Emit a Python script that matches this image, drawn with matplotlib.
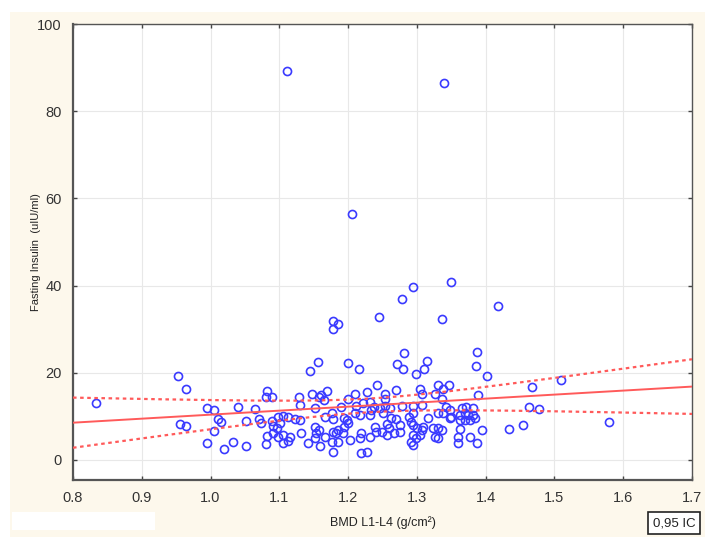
"""Scatter of fasting insulin against lumbar BMD with linear fit and 95% CI."""

import matplotlib
matplotlib.use("Agg")
import matplotlib.pyplot as plt
from matplotlib.patches import Rectangle
import numpy as np


# Points: (BMD L1-L4, fasting insulin).
POINTS = [
    # sparse / high values
    (1.111, 89.3), (1.340, 86.5), (1.205, 56.5), (1.349, 40.9), (1.294, 39.6),
    (1.418, 35.2), (1.279, 36.9), (1.245, 32.7), (1.336, 32.4), (1.178, 31.9),
    (1.186, 31.2), (1.178, 30.0), (1.388, 24.8), (1.281, 24.6), (1.156, 22.5),
    (1.200, 22.2), (1.314, 22.8), (1.271, 21.9), (1.280, 20.9), (1.311, 20.9),
    (1.144, 20.5), (1.216, 20.9), (1.386, 21.6), (1.298, 19.7), (1.402, 19.3),
    (0.952, 19.3), (0.965, 16.2), (1.509, 18.3), (1.467, 16.8), (1.580, 8.8),
    (0.833, 13.1), (1.434, 7.1), (1.455, 8.0), (1.463, 12.2), (1.478, 11.8),
    # 0.95 - 1.09
    (0.995, 12.0), (1.005, 11.5), (1.040, 12.2), (1.064, 11.7), (1.082, 15.9),
    (1.081, 14.5), (0.955, 8.3), (0.965, 7.8), (1.011, 9.3), (1.015, 8.7),
    (1.005, 6.7), (0.995, 4.0), (1.020, 2.5), (1.032, 4.1), (1.051, 3.1),
    (1.051, 9.0), (1.070, 9.4), (1.073, 8.4), (1.082, 5.4), (1.081, 3.7),
    # 1.09 - 1.24
    (1.242, 17.2), (1.228, 15.7), (1.210, 15.1), (1.200, 13.9), (1.170, 15.9),
    (1.161, 14.9), (1.157, 14.5), (1.147, 15.1), (1.165, 13.8), (1.128, 14.4),
    (1.130, 12.6), (1.090, 14.5), (1.152, 11.9), (1.190, 12.1), (1.212, 12.4),
    (1.222, 13.0), (1.232, 13.4), (1.237, 12.2), (1.166, 9.9), (1.178, 9.4),
    (1.176, 10.7), (1.194, 9.6), (1.199, 9.2), (1.210, 10.7), (1.217, 10.3),
    (1.232, 10.3), (1.234, 11.5), (1.098, 9.9), (1.106, 10.1), (1.113, 9.9),
    (1.123, 9.3), (1.130, 9.2), (1.089, 9.0), (1.091, 7.8), (1.101, 8.4),
    (1.096, 7.3), (1.091, 6.1), (1.098, 5.3), (1.106, 5.7), (1.115, 5.3),
    (1.106, 3.8), (1.113, 4.4), (1.132, 6.1), (1.142, 4.0), (1.152, 7.6),
    (1.157, 6.9), (1.154, 6.1), (1.159, 3.1), (1.152, 5.0), (1.166, 5.3),
    (1.178, 6.5), (1.183, 6.1), (1.186, 6.9), (1.176, 4.2), (1.186, 4.2),
    (1.178, 1.9), (1.193, 6.1), (1.203, 4.6), (1.217, 5.0), (1.219, 6.1),
    (1.232, 5.3), (1.219, 1.5), (1.228, 1.9), (1.194, 7.6), (1.200, 8.4),
    (1.239, 7.6), (1.241, 6.5),
    # 1.24 - 1.41
    (1.269, 16.1), (1.253, 15.1), (1.253, 13.9), (1.304, 16.3), (1.307, 15.1),
    (1.330, 17.2), (1.338, 16.2), (1.347, 17.1), (1.326, 15.1), (1.336, 13.9),
    (1.389, 14.9), (1.253, 12.4), (1.261, 11.9), (1.279, 12.4), (1.295, 12.4),
    (1.307, 12.5), (1.343, 12.2), (1.348, 11.5), (1.365, 11.9), (1.372, 12.2),
    (1.381, 11.9), (1.246, 11.9), (1.251, 10.7), (1.263, 9.6), (1.270, 9.3),
    (1.289, 9.9), (1.295, 10.7), (1.316, 9.6), (1.331, 10.8), (1.338, 10.8),
    (1.350, 9.9), (1.362, 10.3), (1.370, 10.7), (1.375, 10.3), (1.382, 10.3),
    (1.348, 9.6), (1.362, 9.2), (1.370, 9.2), (1.377, 9.2), (1.384, 9.6),
    (1.256, 8.3), (1.260, 7.3), (1.275, 8.0), (1.275, 6.5), (1.294, 8.0),
    (1.291, 8.8), (1.249, 6.5), (1.256, 5.7), (1.266, 6.1), (1.300, 7.3),
    (1.307, 6.9), (1.309, 7.6), (1.323, 7.3), (1.331, 7.3), (1.336, 6.9),
    (1.326, 5.3), (1.331, 5.0), (1.362, 7.0), (1.377, 5.3), (1.394, 6.9),
    (1.294, 5.7), (1.299, 5.0), (1.304, 5.7), (1.292, 4.2), (1.295, 3.4),
    (1.360, 5.3), (1.360, 3.8), (1.387, 3.8),
]

X_TICKS = [0.8, 0.9, 1.0, 1.1, 1.2, 1.3, 1.4, 1.5, 1.6, 1.7]
Y_TICKS = [0, 20, 40, 60, 80, 100]
X_LABEL = "BMD L1-L4 (g/cm²)"
Y_LABEL = "Fasting Insulin  (uIU/ml)"
CI_LABEL = "0,95 IC"

POINT_COLOR = "#3a3aff"
LINE_COLOR = "#ff5a5a"
PANEL_COLOR = "#fdf8ec"
T_95 = 1.972


def main():
    plt.rcParams["font.family"] = ["Liberation Sans", "DejaVu Sans"]

    bmd = np.array([p[0] for p in POINTS])
    insulin = np.array([p[1] for p in POINTS])

    # Least squares fit and 95% confidence band of the mean.
    slope, intercept = np.polyfit(bmd, insulin, 1)
    n = len(bmd)
    resid = insulin - (intercept + slope * bmd)
    s = np.sqrt(np.sum(resid ** 2) / (n - 2))
    x_mean = bmd.mean()
    sxx = np.sum((bmd - x_mean) ** 2)
    xs = np.linspace(X_TICKS[0], X_TICKS[-1], 200)
    fit = intercept + slope * xs
    half = T_95 * s * np.sqrt(1 / n + (xs - x_mean) ** 2 / sxx)

    fig = plt.figure(figsize=(7.17, 5.46), dpi=100)
    fig.patch.set_facecolor("white")
    fig.patches.append(Rectangle((0.014, 0.0165), 0.969, 0.9615,
                                 transform=fig.transFigure, facecolor=PANEL_COLOR,
                                 edgecolor="none", zorder=-2))
    fig.patches.append(Rectangle((12 / 717, 1 - 530 / 546), 143 / 717, 18 / 546,
                                 transform=fig.transFigure, facecolor="white",
                                 edgecolor="none", zorder=-1))

    ax = fig.add_axes([73 / 717, 1 - 480 / 546, 619 / 717, 456 / 546])
    ax.set_facecolor("white")

    ax.plot(bmd, insulin, linestyle="none", marker="o", markersize=5.8,
            markerfacecolor="none", markeredgecolor=POINT_COLOR,
            markeredgewidth=1.2, zorder=3)
    ax.plot(xs, fit, color=LINE_COLOR, linewidth=1.4, zorder=4)
    ax.plot(xs, fit + half, color=LINE_COLOR, linewidth=1.6,
            linestyle=(0, (1.6, 1.6)), zorder=4)
    ax.plot(xs, fit - half, color=LINE_COLOR, linewidth=1.6,
            linestyle=(0, (1.6, 1.6)), zorder=4)

    ax.set_xlim(0.8, 1.7)
    ax.set_ylim(-4.6, 100)
    ax.set_xticks(X_TICKS)
    ax.set_xticklabels([f"{t:.1f}" for t in X_TICKS])
    ax.set_yticks(Y_TICKS)
    ax.grid(True, color="#e8e8e8", linewidth=0.8)
    ax.set_axisbelow(True)
    ax.tick_params(direction="in", length=3, width=1, color="#444444",
                   labelsize=10.5, labelcolor="#333333", top=True, right=True,
                   pad=8)
    for side in ["left", "bottom"]:
        ax.spines[side].set_linewidth(1.6)
        ax.spines[side].set_color("#555555")
    for side in ["top", "right"]:
        ax.spines[side].set_linewidth(1.0)
        ax.spines[side].set_color("#555555")

    ax.set_xlabel(X_LABEL, fontsize=9, color="#222222", labelpad=8)
    ax.set_ylabel(Y_LABEL, fontsize=8, color="#222222", labelpad=-3)

    fig.text(674 / 717, 1 - 523 / 546, CI_LABEL, ha="center", va="center",
             fontsize=9.5, color="#222222",
             bbox=dict(boxstyle="square,pad=0.35", facecolor="white",
                       edgecolor="#222222", linewidth=1.2))

    fig.savefig("out.png", dpi=100, facecolor=fig.get_facecolor())
    plt.close(fig)


if __name__ == "__main__":
    main()
